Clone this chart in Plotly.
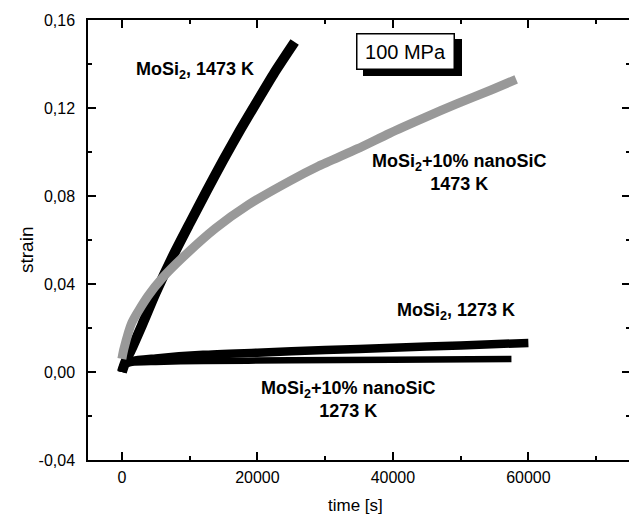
import plotly.graph_objects as go

# ---- data ----
t_mosi2_1473 = [0, 500, 1500, 3000, 5000, 7500, 10000, 12500, 15000, 17500, 20000, 22500, 25500]
s_mosi2_1473 = [0.0, 0.0045, 0.0110, 0.0215, 0.0360, 0.0525, 0.0675, 0.0822, 0.0965, 0.1102, 0.1232, 0.1360, 0.1500]

t_nano_1473 = [0, 300, 1480, 3850, 6000, 8890, 13780, 18670, 24900, 29000, 34800, 39500, 44600, 49500, 54500, 58200]
s_nano_1473 = [0.0060, 0.0105, 0.0225, 0.0345, 0.0428, 0.0518, 0.0652, 0.0760, 0.0870, 0.0935, 0.1015, 0.1085, 0.1155, 0.1220, 0.1282, 0.1330]

t_mosi2_1273 = [0, 300, 1500, 5000, 12000, 20000, 30000, 40000, 50000, 60000]
s_mosi2_1273 = [0.0, 0.0030, 0.0050, 0.0062, 0.0078, 0.0088, 0.0100, 0.0110, 0.0121, 0.0132]

t_nano_1273 = [0, 300, 1500, 5000, 12000, 25000, 40000, 57500]
s_nano_1273 = [0.0, 0.0030, 0.0042, 0.0046, 0.0050, 0.0053, 0.0056, 0.0059]

y_tickvals = [-0.04, 0.0, 0.04, 0.08, 0.12, 0.16]
y_ticktext = ["-0,04", "0,00", "0,04", "0,08", "0,12", "0,16"]
x_tickvals = [0, 20000, 40000, 60000]
x_ticktext = ["0", "20000", "40000", "60000"]

FONT = "Liberation Sans, Arial, sans-serif"

fig = go.Figure()
fig.add_trace(go.Scatter(x=t_mosi2_1273, y=s_mosi2_1273, mode="lines",
                         line=dict(color="black", width=8.5, shape="spline", smoothing=0.6), showlegend=False))
fig.add_trace(go.Scatter(x=t_nano_1273, y=s_nano_1273, mode="lines",
                         line=dict(color="black", width=6.5, shape="spline", smoothing=0.6), showlegend=False))
fig.add_trace(go.Scatter(x=t_mosi2_1473, y=s_mosi2_1473, mode="lines",
                         line=dict(color="black", width=10, shape="spline", smoothing=0.6), showlegend=False))
fig.add_trace(go.Scatter(x=t_nano_1473, y=s_nano_1473, mode="lines",
                         line=dict(color="#999999", width=9, shape="spline", smoothing=0.6), showlegend=False))

axis_common = dict(showgrid=False, zeroline=False, showline=True, linecolor="black", linewidth=1.5,
                   mirror="ticks", ticks="inside", ticklen=8, tickwidth=1.5, tickcolor="black",
                   automargin=False,
                   tickfont=dict(family=FONT, size=16, color="black"))

fig.update_xaxes(range=[-5000, 75000], tickvals=x_tickvals, ticktext=x_ticktext,
                 minor=dict(ticks="inside", ticklen=4, tickwidth=1.5, dtick=10000, tick0=0, tickcolor="black"),
                 ticklabelstandoff=2, **axis_common)
fig.update_yaxes(range=[-0.04, 0.16], tickvals=y_tickvals, ticktext=y_ticktext,
                 minor=dict(ticks="inside", ticklen=4, tickwidth=1.5, dtick=0.02, tick0=0, tickcolor="black"),
                 ticklabelstandoff=8, **axis_common)

# axis titles
fig.add_annotation(x=0, y=0.5, xref="paper", yref="paper", text="strain", textangle=-90,
                   showarrow=False, xanchor="center", yanchor="middle", xshift=-62, yshift=-10,
                   font=dict(family=FONT, size=19, color="black"))
fig.add_annotation(x=0.5, y=0, xref="paper", yref="paper", text="time [s]",
                   showarrow=False, xanchor="center", yanchor="middle", xshift=-4, yshift=-45,
                   font=dict(family=FONT, size=17, color="black"))

bold = dict(family=FONT, size=18, color="black")
annots = [
    dict(x=10800, y=0.137, text="<b>MoSi<sub>2</sub>, 1473 K</b>"),
    dict(x=49800, y=0.0905, text="<b>MoSi<sub>2</sub>+10% nanoSiC<br>1473 K</b>"),
    dict(x=49300, y=0.0273, text="<b>MoSi<sub>2</sub>, 1273 K</b>"),
    dict(x=33500, y=-0.0127, text="<b>MoSi<sub>2</sub>+10% nanoSiC<br>1273 K</b>"),
]
for a in annots:
    fig.add_annotation(x=a["x"], y=a["y"], text=a["text"], showarrow=False,
                       font=bold, align="center", xref="x", yref="y")

# "100 MPa" box with drop shadow
box = dict(x=41930, y=0.1457, text="100 MPa", showarrow=False, width=88, height=26,
           font=dict(family=FONT, size=20, color="black"), bordercolor="black",
           borderwidth=1.5, borderpad=4)
fig.add_annotation(xshift=7, yshift=-6, bgcolor="black", **box)
fig.add_annotation(bgcolor="white", **box)

# the page body adds an 8px margin, so the figure is sized to fit the 637x516 window
fig.update_layout(width=629, height=508, margin=dict(l=80, r=7, t=12, b=56),
                  paper_bgcolor="white", plot_bgcolor="white",
                  font=dict(family=FONT, color="black"))

fig.write_html("out.html")
